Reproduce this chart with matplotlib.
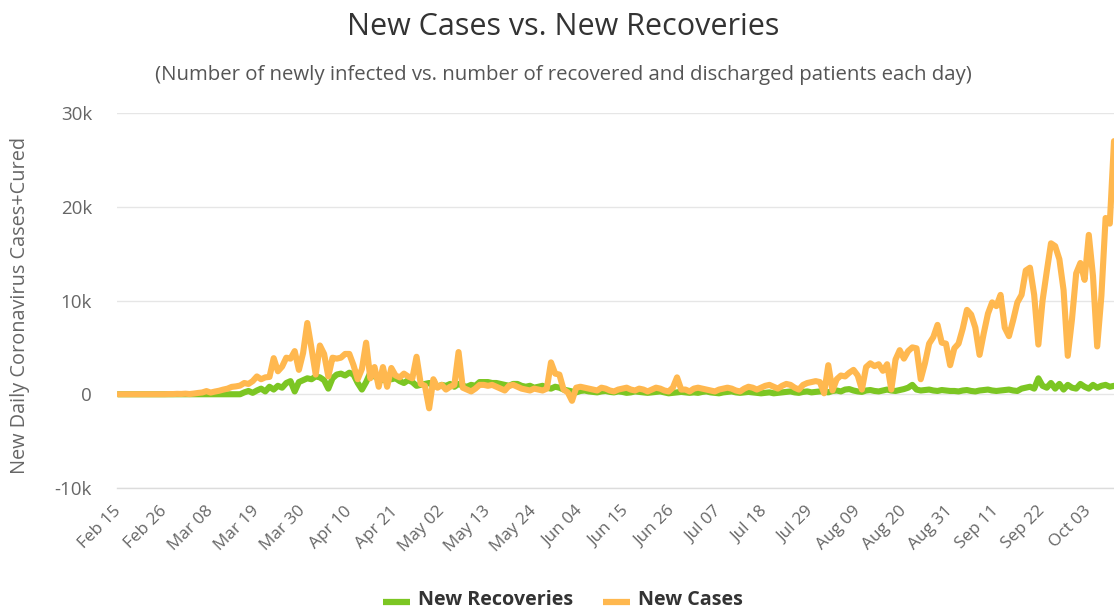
import matplotlib
matplotlib.use('Agg')
import matplotlib.pyplot as plt
import pandas as pd
from matplotlib.lines import Line2D

plt.rcParams['font.family'] = ['Open Sans', 'DejaVu Sans']

# ---------------- data ----------------
start_date = '2020-02-15'

new_recoveries = [
    0, 0, 0, 0, 0, 0, 0, 0, 0, 0,
    0, 0, 0, 0, 0, 0, 0, 0, 0, 0,
    0, 0, 0, 0, 0, 10, 0, 0, 0, 0,
    200, 350, 150, 400, 600, 300, 800, 500, 900, 700,
    1200, 1400, 300, 1300, 1500, 1700, 1600, 1900, 1800, 1500,
    600, 1700, 2100, 2200, 2000, 2300, 2100, 1200, 500, 1300,
    2300, 1900, 1700, 1500, 1800, 1600, 1700, 1400, 1200, 1500,
    1300, 900, 1000, 1100, 1200, 900, 800, 1000, 900, 1100,
    800, 1100, 900, 800, 1000, 900, 1300, 1300, 1300, 1200,
    1200, 1100, 1000, 900, 1100, 1100, 900, 800, 900, 700,
    800, 900, 700, 600, 800, 700, 500, 400, 300, 200,
    350, 400, 300, 250, 200, 300, 350, 250, 200, 300,
    250, 150, 200, 300, 250, 200, 150, 200, 250, 300,
    200, 100, 150, 200, 250, 200, 150, 200, 150, 250,
    300, 200, 150, 100, 200, 250, 300, 200, 150, 200,
    250, 200, 150, 100, 150, 200, 100, 150, 200, 250,
    300, 200, 150, 250, 300, 200, 250, 300, 300, 200,
    350, 400, 300, 500, 550, 400, 300, 250, 400, 450,
    350, 300, 400, 500, 400, 350, 450, 550, 700, 1000,
    500, 400, 450, 500, 400, 350, 450, 400, 350, 350,
    300, 400, 450, 350, 300, 400, 450, 500, 400, 350,
    400, 450, 500, 400, 350, 600, 700, 800, 600, 1700,
    900, 700, 1200, 600, 1100, 500, 1000, 700, 600, 1100,
    800, 600, 1000, 700, 900, 1000, 800, 900,
]

new_cases = [
    0, 0, 0, 0, 0, 0, 0, 0, 0, 0,
    2, 4, 20, 19, 43, 30, 61, 21, 73, 138,
    190, 336, 177, 286, 372, 497, 595, 785, 838, 924,
    1200, 1100, 1400, 1900, 1600, 1800, 1850, 3850, 2450, 2950,
    3900, 3800, 4600, 2600, 4400, 7600, 4900, 2100, 5200, 4300,
    1900, 3900, 3800, 3900, 4300, 4300, 3100, 1600, 2700, 5500,
    1700, 2900, 800, 2900, 800, 2800, 2000, 1800, 2200, 1900,
    1700, 4000, 1100, 900, -1500, 1600, 700, 1000, 500, 800,
    1000, 4500, 700, 500, 300, 600, 1000, 1000, 900, 1000,
    800, 600, 400, 900, 1000, 800, 600, 500, 400, 600,
    500, 400, 600, 3400, 2200, 2100, 500, 200, -700, 700,
    800, 700, 600, 500, 400, 700, 600, 400, 300, 500,
    600, 700, 500, 400, 600, 500, 300, 500, 700, 600,
    400, 300, 700, 1800, 500, 500, 300, 600, 700, 600,
    500, 400, 300, 500, 600, 700, 600, 400, 300, 600,
    800, 700, 500, 700, 900, 1000, 800, 600, 900, 1100,
    1000, 700, 500, 1000, 1200, 1300, 1400, 1300, 100, 3100,
    400, 1600, 2000, 1900, 2300, 2600, 2000, 500, 2900, 3300,
    3000, 3200, 2500, 3200, 500, 3700, 4700, 3800, 4600, 5000,
    4900, 1600, 3300, 5400, 6100, 7400, 5500, 5400, 3100, 4900,
    5400, 7000, 9000, 8500, 7100, 4200, 6500, 8600, 9800, 9400,
    10600, 7100, 6200, 7900, 9800, 10600, 13200, 13500, 10600, 5300,
    10000, 13100, 16100, 15800, 14400, 11100, 4100, 8000, 12900, 14000,
    12200, 17000, 12600, 5100, 10500, 18800, 18200, 27000,
]

x_tick_labels = ['Feb 15', 'Feb 26', 'Mar 08', 'Mar 19', 'Mar 30', 'Apr 10',
                 'Apr 21', 'May 02', 'May 13', 'May 24', 'Jun 04', 'Jun 15',
                 'Jun 26', 'Jul 07', 'Jul 18', 'Jul 29', 'Aug 09', 'Aug 20',
                 'Aug 31', 'Sep 11', 'Sep 22', 'Oct 03']
y_ticks = [-10000, 0, 10000, 20000, 30000]
y_tick_labels = ['-10k', '0', '10k', '20k', '30k']

series_names = ['New Recoveries', 'New Cases']
series_colors = ['#7CC623', '#FFB84F']

# ---------------- figure ----------------
W, H = 1114, 611
fig = plt.figure(figsize=(W / 100, H / 100), dpi=100)
fig.patch.set_facecolor('white')

def fx(px):
    return px / W

def fy(py):
    return 1 - py / H

ax = fig.add_axes([fx(117), fy(488), fx(1114) - fx(117), fy(113) - fy(488)])

dates_rec = pd.date_range(start_date, periods=len(new_recoveries), freq='D')
dates_cas = pd.date_range(start_date, periods=len(new_cases), freq='D')

ax.plot(dates_rec, new_recoveries, color=series_colors[0], lw=4.4,
        solid_joinstyle='round', solid_capstyle='round', zorder=3)
ax.plot(dates_cas, new_cases, color=series_colors[1], lw=4.4,
        solid_joinstyle='round', solid_capstyle='round', zorder=4)

ax.set_xlim(dates_cas[0] - pd.Timedelta(hours=7), dates_cas[-1])
ax.set_ylim(-10000, 30000)

ax.set_yticks(y_ticks)
ax.set_yticklabels(y_tick_labels)
tick_pos = pd.date_range(start_date, periods=len(x_tick_labels), freq='11D')
ax.set_xticks(tick_pos)
ax.set_xticklabels(x_tick_labels, rotation=45, ha='right', va='center',
                   rotation_mode='anchor')

ax.tick_params(axis='y', length=0, pad=18, labelsize=13.5, labelcolor='#666666')
ax.tick_params(axis='x', length=0, pad=15, labelsize=12.3, labelcolor='#666666')

ax.grid(axis='y', color='#e6e6e6', lw=1)
ax.grid(axis='x', visible=False)
for s in ['top', 'right', 'left']:
    ax.spines[s].set_visible(False)
ax.spines['bottom'].set_color('#dcdcdc')
ax.spines['bottom'].set_linewidth(1)
ax.set_axisbelow(True)

# titles
fig.text(fx(563), fy(27), 'New Cases vs. New Recoveries', ha='center', va='center',
         fontsize=22, color='#333333')
fig.text(fx(563), fy(75),
         '(Number of newly infected vs. number of recovered and discharged patients each day)',
         ha='center', va='center', fontsize=14.7, color='#555555')
fig.text(fx(20), fy(305), 'New Daily Coronavirus Cases+Cured', rotation=90,
         ha='center', va='center', fontsize=14.3, color='#666666')

# legend
leg_items = [(383, 410, 418), (603, 630, 638)]
for (x1, x2, xt), name, col in zip(leg_items, series_names, series_colors):
    fig.add_artist(Line2D([fx(x1), fx(x2)], [fy(602), fy(602)], color=col, lw=4.5,
                          solid_capstyle='butt', transform=fig.transFigure))
    fig.text(fx(xt), fy(610), name, ha='left', va='bottom', fontsize=14.2,
             fontweight='bold', color='#333333')

fig.savefig('out.png', dpi=100, facecolor='white')
